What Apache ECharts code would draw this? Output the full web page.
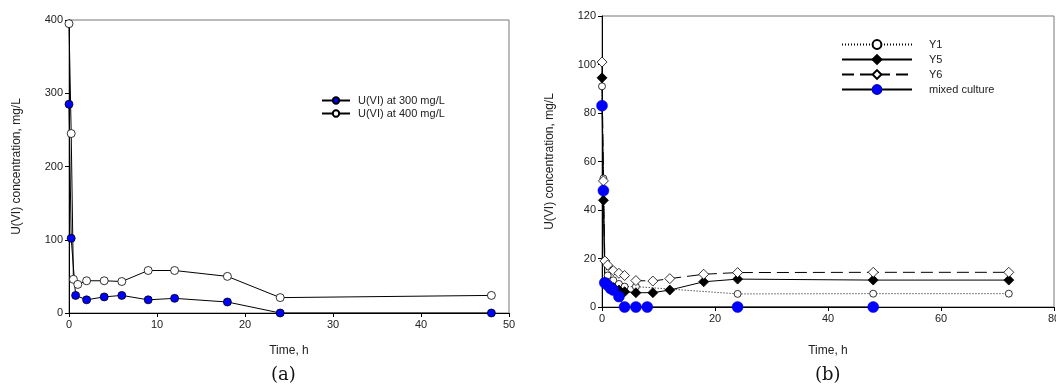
<!DOCTYPE html>
<html>
<head>
<meta charset="utf-8">
<script src="https://cdn.jsdelivr.net/npm/echarts@6/dist/echarts.min.js"></script>
<style>
  html, body { margin: 0; padding: 0; background: #fff; }
  #chart { width: 1056px; height: 388px; }
</style>
</head>
<body>
<div id="chart"></div>
<script>
// panel (a)
const timeA300 = [0, 0.25, 0.75, 2, 4, 6, 9, 12, 18, 24, 48]
const valA300 = [285, 102, 24, 18, 22, 24, 18, 20, 15, 0, 0]
const timeA400 = [0, 0.25, 0.5, 1, 2, 4, 6, 9, 12, 18, 24, 48]
const valA400 = [395, 245, 46, 39, 44, 44, 43, 58, 58, 50, 21, 24]

// panel (b)
const timeY1 = [0, 0.25, 0.5, 1, 2, 3, 4, 6, 24, 48, 72]
const valY1 = [91, 53, 19, 13, 11, 9.5, 8.4, 8.4, 5.4, 5.5, 5.5]
const timeY5 = [0, 0.25, 0.5, 1, 2, 3, 4, 6, 9, 12, 18, 24, 48, 72]
const valY5 = [94.5, 44, 10, 8.5, 8, 7, 6.3, 5.9, 5.9, 7, 10.4, 11.5, 11.1, 11.1]
const timeY6 = [0, 0.25, 0.5, 1, 2, 3, 4, 6, 9, 12, 18, 24, 48, 72]
const valY6 = [101, 52, 19, 17.3, 15, 13.9, 13, 10.9, 10.7, 11.7, 13.5, 14.2, 14.3, 14.3]
const timeMix = [0, 0.25, 0.5, 1, 1.5, 2, 3, 4, 6, 8, 24, 48]
const valMix = [83, 48, 10, 9, 7.7, 7, 4.3, 0, 0, 0, 0, 0]

const namesA = ['U(VI) at 300 mg/L', 'U(VI) at 400 mg/L']
const namesB = ['Y1', 'Y5', 'Y6', 'mixed culture']

const FONT = 'Liberation Sans, Arial, sans-serif'
const pairs = (t, v) => t.map((x, i) => [x, v[i]])

const axisCommon = {
  axisLine: { show: true, lineStyle: { color: '#000', width: 1 } },
  axisTick: { show: true, inside: false, length: 4, lineStyle: { color: '#000' } },
  axisLabel: { color: '#222', fontSize: 11, fontFamily: FONT, margin: 6 },
  splitLine: { show: false },
  nameTextStyle: { color: '#222', fontSize: 12, fontFamily: FONT }
}

function xAx(idx, max, interval, gap) {
  return Object.assign({}, axisCommon, {
    type: 'value', gridIndex: idx, min: 0, max: max, interval: interval,
    name: 'Time, h', nameLocation: 'middle', nameGap: gap
  })
}
function yAx(idx, max, interval, gap) {
  return Object.assign({}, axisCommon, {
    type: 'value', gridIndex: idx, min: 0, max: max, interval: interval,
    name: 'U(VI) concentration, mg/L', nameLocation: 'middle', nameGap: gap
  })
}

const chart = echarts.init(document.getElementById('chart'), null, { renderer: 'canvas' })

chart.setOption({
  animation: false,
  backgroundColor: '#fff',
  grid: [
    { left: 69, right: 547, top: 20, bottom: 75, show: true, borderColor: '#777', borderWidth: 1, outerBoundsMode: 'none' },
    { left: 602, right: 2, top: 16, bottom: 81, show: true, borderColor: '#777', borderWidth: 1, outerBoundsMode: 'none' }
  ],
  xAxis: [xAx(0, 50, 10, 32), xAx(1, 80, 20, 38)],
  yAxis: [yAx(0, 400, 100, 46), yAx(1, 120, 20, 46)],
  legend: [
    {
      data: namesA, left: 316, top: 90, orient: 'vertical',
      itemWidth: 28, itemHeight: 8, itemGap: 2,
      textStyle: { fontSize: 11, fontFamily: FONT, color: '#222', padding: [0, 0, 0, 3] }
    },
    {
      data: namesB, left: 836, top: 34, orient: 'vertical',
      itemWidth: 70, itemHeight: 11, itemGap: 4,
      textStyle: { fontSize: 11, fontFamily: FONT, color: '#222', padding: [0, 0, 0, 12] }
    }
  ],
  graphic: [
    { type: 'text', left: 271, top: 366, style: { text: '(a)', font: '18px "DejaVu Serif", "Liberation Serif", serif', fill: '#111' } },
    { type: 'text', left: 815, top: 366, style: { text: '(b)', font: '18px "DejaVu Serif", "Liberation Serif", serif', fill: '#111' } }
  ],
  series: [
    {
      name: namesA[0], type: 'line', xAxisIndex: 0, yAxisIndex: 0,
      data: pairs(timeA300, valA300), symbol: 'circle', symbolSize: 8,
      lineStyle: { color: '#000', width: 1 },
      itemStyle: { color: '#0000ff', borderColor: '#000', borderWidth: 0.8 }
    },
    {
      name: namesA[1], type: 'line', xAxisIndex: 0, yAxisIndex: 0,
      data: pairs(timeA400, valA400), symbol: 'circle', symbolSize: 8,
      lineStyle: { color: '#000', width: 1 },
      itemStyle: { color: '#fff', borderColor: '#000', borderWidth: 0.8 }
    },
    {
      name: namesB[0], type: 'line', xAxisIndex: 1, yAxisIndex: 1,
      data: pairs(timeY1, valY1), symbol: 'circle', symbolSize: 7,
      lineStyle: { color: '#000', width: 1, type: [1, 2] },
      itemStyle: { color: '#fff', borderColor: '#000', borderWidth: 0.8 }
    },
    {
      name: namesB[1], type: 'line', xAxisIndex: 1, yAxisIndex: 1,
      data: pairs(timeY5, valY5), symbol: 'diamond', symbolSize: 10,
      lineStyle: { color: '#000', width: 1 },
      itemStyle: { color: '#000', borderColor: '#000', borderWidth: 0.8 }
    },
    {
      name: namesB[2], type: 'line', xAxisIndex: 1, yAxisIndex: 1,
      data: pairs(timeY6, valY6), symbol: 'diamond', symbolSize: 10,
      lineStyle: { color: '#000', width: 1, type: [12, 6] },
      itemStyle: { color: '#fff', borderColor: '#000', borderWidth: 0.8 }
    },
    {
      name: namesB[3], type: 'line', xAxisIndex: 1, yAxisIndex: 1,
      data: pairs(timeMix, valMix), symbol: 'circle', symbolSize: 11,
      lineStyle: { color: '#000', width: 1 },
      itemStyle: { color: '#0000ff', borderColor: '#0000cc', borderWidth: 0.5 }
    }
  ]
})
</script>
</body>
</html>
